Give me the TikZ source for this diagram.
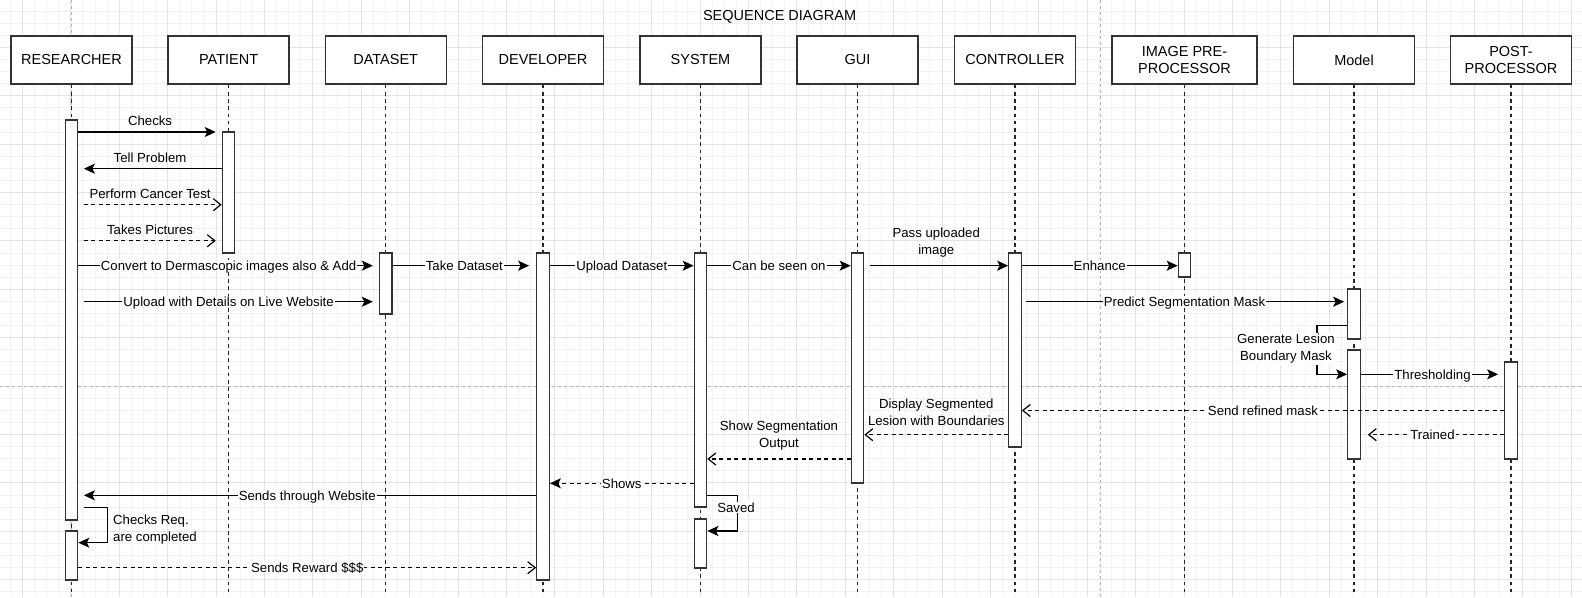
\documentclass[tikz,border=0pt]{standalone}
\usepackage{fontspec}
\setmainfont{Liberation Sans}
\usetikzlibrary{arrows.meta}

\begin{document}
\begin{tikzpicture}[x=1pt, y=-1pt,
	gridmin/.style={black!5, line width=0.8pt},
	gridmaj/.style={black!11, line width=0.8pt},
	pagebreak/.style={black!28, line width=0.8pt, dash pattern=on 3pt off 3pt},
	actor/.style={draw=black!80, line width=1.4pt, fill=white, minimum height=48pt, inner sep=0pt, align=center, font=\fontsize{14.5}{17.5}\selectfont},
	actbar/.style={draw=black!80, line width=1.3pt, fill=white, minimum width=12.4pt, inner sep=0pt},
	lifeline/.style={black!85, line width=1.2pt, dash pattern=on 3.6pt off 3.6pt},
	call/.style={line width=1.3pt, -{Stealth[length=11pt, width=10pt, inset=2.5pt]}},
	reply/.style={line width=1.2pt, dash pattern=on 4pt off 3.5pt, -{Straight Barb[length=7.5pt, width=12pt]}},
	txt/.style={font=\fontsize{13.2}{17}\selectfont},
	inl/.style={txt, fill=white, inner sep=1pt, text height=9.5pt, text depth=0pt},
	abvone/.style={txt, inner sep=0pt, anchor=base, yshift=6.3pt},
	abvtwo/.style={txt, inner sep=0pt, anchor=south, yshift=8pt, align=center}]
	
	\useasboundingbox (0,0) rectangle (1582,597);
	\fill[white] (0,0) rectangle (1582,597);
	
	% background grid
	\foreach \i in {0,...,130} \draw[gridmin] ({10.2+12.1*\i},0) -- ({10.2+12.1*\i},597);
	\foreach \i in {0,...,48} \draw[gridmin] (0,{10.9+12.1*\i}) -- (1582,{10.9+12.1*\i});
	\foreach \i in {0,...,32} \draw[gridmaj] ({22.3+48.4*\i},0) -- ({22.3+48.4*\i},597);
	\foreach \i in {0,...,11} \draw[gridmaj] (0,{47.2+48.4*\i}) -- (1582,{47.2+48.4*\i});
	\draw[pagebreak] (71.7,0) -- (71.7,597);
	\draw[pagebreak] (1100,0) -- (1100,597);
	\draw[pagebreak] (0,386) -- (1582,386);
	
	\node[font=\fontsize{14.5}{17}\selectfont] (title) at (779.6,17) {SEQUENCE DIAGRAM};
	
	% actors and lifelines
	\foreach \n/\x/\w/\t in {res/71.5/121/RESEARCHER, pat/228.6/121/PATIENT, dat/385.7/121/DATASET,
		dev/543/121/DEVELOPER, sys/700.5/121/SYSTEM, gui/857.5/121/GUI, ctl/1015/121/CONTROLLER,
		pre/1184.5/145/{IMAGE PRE-\\PROCESSOR}, mdl/1354/121/Model, pst/1511/121/{POST-\\PROCESSOR}}{
		\node[actor, minimum width=\w pt] (\n) at (\x,60) {\t};
		\draw[lifeline] (\n.south) -- (\n.south |- 0,594);
	}
	
	% activation bars
	\foreach \n/\x/\t/\b in {res1/71.5/120/520, res2/71.5/531/580, pat1/228.6/132/253, dat1/385.7/253/314,
		dev1/543/253/580, sys1/700.5/253/507, sys2/700.5/519/568, gui1/857.5/253/483, ctl1/1015/253/447,
		pre1/1184.5/253/277, mdl1/1354/289/339, mdl2/1354/350/459, pst1/1511/362/459}
		\node[actbar, minimum height={(\b-\t)*1pt}] (\n) at (\x,{(\t+\b)/2}) {};
	
	% messages
	\draw[call, shorten >=6pt] (res1.east |- 0,132) -- (pat1.west |- 0,132) node[abvone, midway] (m1) {Checks};
	\draw[call, shorten >=5.5pt] (pat1.west |- 0,168.7) -- (res1.east |- 0,168.7) node[abvone, midway] (m2) {Tell Problem};
	\draw[reply, shorten <=5.5pt] (res1.east |- 0,204.7) -- (pat1.west |- 0,204.7) node[abvone, midway] (m3) {Perform Cancer Test};
	\draw[reply, shorten <=5.5pt, shorten >=6pt] (res1.east |- 0,240.7) -- (pat1.west |- 0,240.7) node[abvone, midway] (m4) {Takes Pictures};
	\draw[call, shorten >=6pt] (res1.east |- 0,265.7) -- (dat1.west |- 0,265.7) node[inl, midway] (m5) {Convert to Dermascopic images also \& Add};
	\draw[call, shorten >=7pt] (dat1.east |- 0,265.7) -- (dev1.west |- 0,265.7) node[inl, midway] (m6) {Take Dataset};
	\draw[call] (dev1.east |- 0,265.7) -- (sys1.west |- 0,265.7) node[inl, midway] (m7) {Upload Dataset};
	\draw[call] (sys1.east |- 0,265.7) -- (gui1.west |- 0,265.7) node[inl, midway] (m8) {Can be seen on};
	\draw[call, shorten <=6pt] (gui1.east |- 0,265.7) -- (ctl1.west |- 0,265.7) node[abvtwo, midway] (m9) {Pass uploaded\\image};
	\draw[call] (ctl1.east |- 0,265.7) -- (pre1.west |- 0,265.7) node[inl, midway] (m10) {Enhance};
	\draw[call, shorten <=5.5pt, shorten >=6pt] (res1.east |- 0,301.7) -- (dat1.west |- 0,301.7) node[inl, midway] (m11) {Upload with Details on Live Website};
	\draw[call, shorten <=4pt, shorten >=3pt] (ctl1.east |- 0,301.7) -- (mdl1.west |- 0,301.7) node[inl, midway] (m12) {Predict Segmentation Mask};
	
	\coordinate (genturn) at (1317,350);
	\draw[call] (mdl1.west |- 0,325.7) -| (genturn) |- (mdl2.west |- 0,374.3);
	\node[txt, fill=white, inner sep=1pt, align=center] (genlbl) at (1286,349) {Generate Lesion\\Boundary Mask};
	
	\draw[call, shorten >=6pt] (mdl2.east |- 0,374.3) -- (pst1.west |- 0,374.3) node[inl, midway] (m13) {Thresholding};
	\draw[reply] (pst1.west |- 0,410.5) -- (ctl1.east |- 0,410.5) node[inl, midway] (m14) {Send refined mask};
	\draw[reply] (ctl1.west |- 0,434.7) -- (gui1.east |- 0,434.7) node[abvtwo, midway] (m15) {Display Segmented\\Lesion with Boundaries};
	\draw[reply, shorten >=7pt] (pst1.west |- 0,434.7) -- (mdl2.east |- 0,434.7) node[inl, midway] (m16) {Trained};
	\draw[reply] (gui1.west |- 0,459) -- (sys1.east |- 0,459) node[abvtwo, midway] (m17) {Show Segmentation\\Output};
	\draw[reply, -{Stealth[length=11pt, width=10pt, inset=2.5pt]}] (sys1.west |- 0,483.3) -- (dev1.east |- 0,483.3) node[inl, midway] (m18) {Shows};
	\draw[call, shorten >=5.5pt] (dev1.west |- 0,495.3) -- (res1.east |- 0,495.3) node[inl, midway] (m19) {Sends through Website};
	
	\coordinate (savturn) at (737.3,513);
	\draw[call] (sys1.east |- 0,495.3) -| (savturn) |- (sys2.east |- 0,531);
	\node[inl] (savlbl) at (736,507.7) {Saved};
	
	\coordinate (chkturn) at (107.3,525);
	\draw[call, shorten <=5.5pt] (res1.east |- 0,507.3) -| (chkturn) |- (res2.east |- 0,542.7);
	\node[txt, anchor=west, inner sep=0pt, align=left] (chklbl) at (113,529.6) {Checks Req.\\are completed};
	
	\draw[reply] (res2.east |- 0,567.7) -- (dev1.west |- 0,567.7) node[inl, midway] (m20) {Sends Reward \$\$\$};
\end{tikzpicture}
\end{document}
